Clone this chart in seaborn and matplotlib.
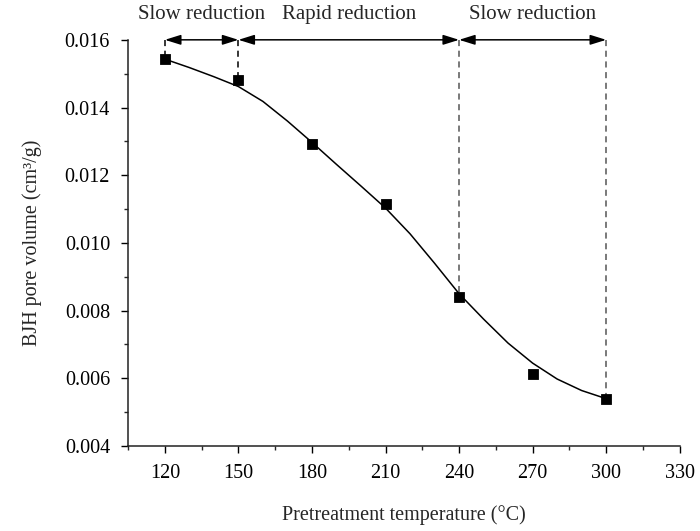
import matplotlib
matplotlib.use("Agg")
import matplotlib.pyplot as plt
import seaborn as sns
import pandas as pd
from matplotlib.ticker import MultipleLocator

# Measured data
temps = [120, 150, 180, 210, 240, 270, 300]
volumes = [0.01544, 0.01481, 0.01292, 0.01114, 0.00839, 0.00612, 0.00538]

# Fitted curve
curve_t = [120, 130, 140, 150, 160, 170, 180, 190, 200, 210, 220, 230, 240,
           250, 260, 270, 280, 290, 300]
curve_v = [0.01543, 0.01518, 0.01491, 0.01462, 0.01418, 0.01360, 0.01297,
           0.01232, 0.01168, 0.01103, 0.01027, 0.00940, 0.00850, 0.00775,
           0.00704, 0.00645, 0.00598, 0.00564, 0.00540]

# Stage annotations
stage_bounds = [120, 150, 240, 300]
stage_labels = ["Slow reduction", "Rapid reduction", "Slow reduction"]

sns.set_theme(style="ticks")
plt.rcParams['font.family'] = ['Liberation Serif', 'DejaVu Serif']

fig = plt.figure(figsize=(7.0, 5.31), dpi=100)
ax = fig.add_axes([0.183, 0.160, 0.788, 0.765])

pts = pd.DataFrame({"t": temps, "v": volumes})
crv = pd.DataFrame({"t": curve_t, "v": curve_v})

sns.lineplot(data=crv, x="t", y="v", ax=ax, color="black", lw=1.1, zorder=2)
sns.scatterplot(data=pts, x="t", y="v", ax=ax, marker="s", s=55,
                color="black", edgecolor="black", zorder=3)

top = 0.016
# dashed verticals
for i, b in enumerate(stage_bounds):
    yv = volumes[temps.index(b)]
    col = "black" if b < 200 else "#555555"
    ax.plot([b, b], [top, yv], ls=(0, (4, 3)), color=col, lw=1.1, zorder=1,
            clip_on=False)

# double arrows
for i in range(len(stage_labels)):
    a, b = stage_bounds[i], stage_bounds[i + 1]
    ax.annotate("", xy=(b, top), xytext=(a, top),
                arrowprops=dict(arrowstyle="<|-|>,head_length=0.8,head_width=0.25",
                                color="black", lw=1.1, shrinkA=0, shrinkB=0),
                annotation_clip=False)
    ax.text((a + b) / 2, 0.01674, stage_labels[i], ha="center", va="center",
            fontsize=15, clip_on=False)

ax.set_xlim(105, 330)
ax.set_ylim(0.004, 0.016)
ax.xaxis.set_major_locator(MultipleLocator(30))
ax.xaxis.set_minor_locator(MultipleLocator(15))
ax.yaxis.set_major_locator(MultipleLocator(0.002))
ax.yaxis.set_minor_locator(MultipleLocator(0.001))
ax.set_xticks([120, 150, 180, 210, 240, 270, 300, 330])
ax.set_yticks([0.004, 0.006, 0.008, 0.010, 0.012, 0.014, 0.016])
ax.set_yticklabels(["0.004", "0.006", "0.008", "0.010", "0.012", "0.014", "0.016"])

ax.tick_params(axis="both", which="major", direction="out", length=5,
               width=1, labelsize=14.5, colors="black", pad=8)
ax.tick_params(axis="both", which="minor", direction="out", length=3, width=1)

for s in ["top", "right"]:
    ax.spines[s].set_visible(False)
for s in ["left", "bottom"]:
    ax.spines[s].set_color("#222222")
    ax.spines[s].set_linewidth(1.1)

ax.set_xlabel("Pretreatment temperature (°C)", fontsize=14.5, labelpad=16)
ax.set_ylabel("BJH pore volume (cm³/g)", fontsize=14.5, labelpad=16)

fig.savefig("out.png", dpi=100)
